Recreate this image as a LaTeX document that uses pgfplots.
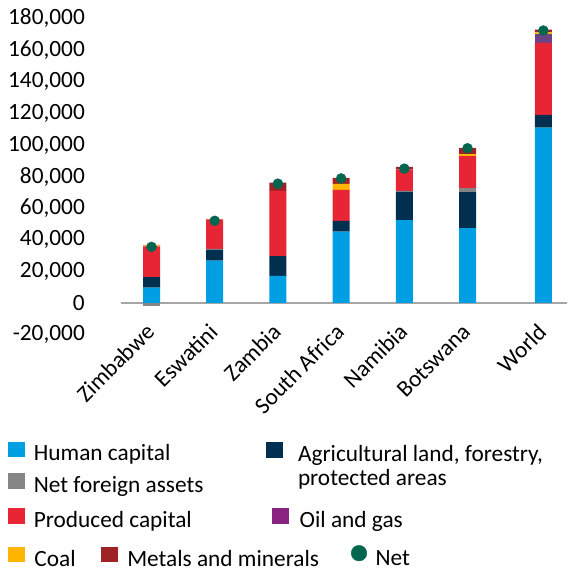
\documentclass[border=0pt]{standalone}
\usepackage{fontspec}
\setmainfont{Carlito}
\usepackage{pgfplots}
\usepackage{pgfplotstable}
\pgfplotsset{compat=1.18}

\definecolor{human}{HTML}{009FE3}
\definecolor{agri}{HTML}{002F4F}
\definecolor{nfa}{HTML}{858585}
\definecolor{produced}{HTML}{E82535}
\definecolor{oil}{HTML}{8B2383}
\definecolor{oilbar}{HTML}{6E4383}
\definecolor{coal}{HTML}{FFB400}
\definecolor{metals}{HTML}{9E2226}
\definecolor{netc}{HTML}{00664F}
\definecolor{zeroline}{HTML}{A6A6A6}

\newcommand{\F}{\fontsize{23.3}{28}\selectfont}

\pgfplotsset{
  sq/.style={legend image code/.code={\fill[#1] (0pt,-1.5pt) rectangle (15.7pt,13pt);}},
  dot/.style={legend image code/.code={\fill[#1] (7.8pt,6.7pt) circle[radius=7.8pt];}},
  noimg/.style={legend image code/.code={}},
}

% x (left of image), baseline y, gap image->text, image style, text
\newcommand{\legitem}[5]{%
\begin{axis}[at={(#1pt,6pt-#2pt)}, anchor=south west, scale only axis,
  width=1pt, height=1pt, hide axis, xmin=0, xmax=1, ymin=0, ymax=1,
  legend style={at={(0,0)}, anchor=west, draw=none, fill=none,
    inner sep=0pt, outer sep=0pt, font=\F, column sep=#3pt,
    nodes={inner sep=0pt, outer sep=0pt, text height=16pt, text depth=4pt}},
  legend cell align=left]
\addlegendimage{#4}
\addlegendentry{#5}
\end{axis}}

\pgfplotstableread{
x    human  agri   nfa   produced oil  coal metals
0    9700   6700   0     19400    0    600  400
1    26800  6900   500   18700    0    300  0
2    17100  12600  0     41300    0    0    5100
3    45100  6800   0     19600    0    3800 3800
4    52500  17900  500   13700    0    0    1600
5    47400  22800  2500  20300    0    1200 3800
6.2  111000 8000   0     45600    5700 900  1700
}\datatable

\pgfplotstableread{
x    net
0    35500
1    52000
2    75500
3    78800
4    85000
5    97900
6.2  172400
}\nettable

\begin{document}
\begin{tikzpicture}[font=\F]
\useasboundingbox (0pt,0pt) rectangle (567pt,-569pt);
\begin{axis}[
  at={(121pt,-334.6pt)}, anchor=south west,
  scale only axis, width=446pt, height=316.1pt,
  xmin=-0.4826, xmax=6.574, ymin=-20000, ymax=180000,
  ybar stacked, bar width=17pt,
  axis line style={draw=none}, tick style={draw=none}, major tick length=0pt,
  ytick={-20000,0,20000,40000,60000,80000,100000,120000,140000,160000,180000},
  scaled y ticks=false,
  /pgf/number format/assume math mode=true,
  yticklabel style={/pgf/number format/1000 sep={,}, /pgf/number format/fixed,
    anchor=east, inner sep=0pt, xshift=-36pt, font=\F},
  xtick={0,1,2,3,4,5,6.2},
  xticklabels={Zimbabwe,Eswatini,Zambia,South Africa,Namibia,Botswana,World},
  xticklabel style={rotate=45, anchor=east, inner sep=0pt, xshift=4pt, yshift=5.6pt, font=\F},
  extra y ticks={0}, extra y tick labels={},
  extra y tick style={grid=major, major grid style={zeroline, line width=1.7pt}},
  clip=false,
]
\addplot[fill=human, draw=none] table[x=x, y=human] {\datatable};
\addplot[fill=agri, draw=none] table[x=x, y=agri] {\datatable};
\addplot[fill=nfa, draw=none] table[x=x, y=nfa] {\datatable};
\addplot[fill=produced, draw=none] table[x=x, y=produced] {\datatable};
\addplot[fill=oilbar, draw=none] table[x=x, y=oil] {\datatable};
\addplot[fill=coal, draw=none] table[x=x, y=coal] {\datatable};
\addplot[fill=metals, draw=none] table[x=x, y=metals] {\datatable};
\addplot[ybar, stack plots=false, fill=nfa, draw=none] coordinates {(0,-1900)};
\addplot[stack plots=false, only marks, mark=*, mark size=5pt, mark options={fill=netc, draw=netc}] table[x=x, y=net] {\nettable};
\end{axis}

\legitem{8.3}{459.3}{9.5}{sq=human}{Human capital}
\legitem{8.3}{491}{9.5}{sq=nfa}{Net foreign assets}
\legitem{8.3}{525.7}{9.5}{sq=produced}{Produced capital}
\legitem{266.3}{460}{15.7}{sq=agri}{Agricultural land, forestry,}
\legitem{288}{485}{10}{noimg}{protected areas}
\legitem{272.3}{526}{11.3}{sq=oil}{Oil and gas}
\legitem{8.3}{564.5}{10}{sq=coal}{Coal}
\legitem{101}{564.5}{10.2}{sq=metals}{Metals and minerals}
\legitem{351}{563.5}{8.5}{dot=netc}{Net}
\end{tikzpicture}
\end{document}
